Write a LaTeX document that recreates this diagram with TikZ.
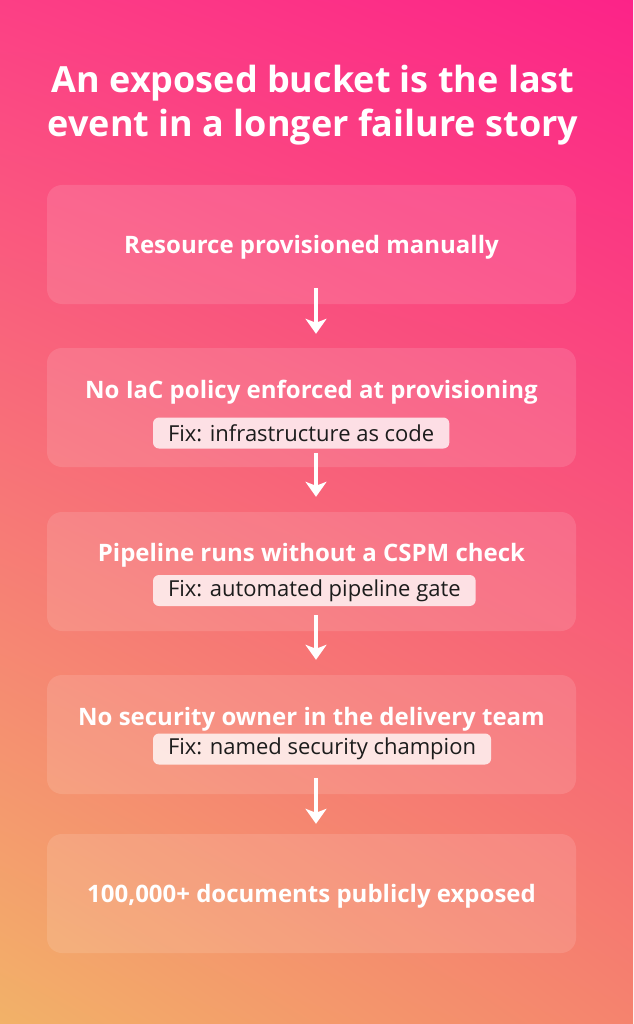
\documentclass[tikz,border=0pt]{standalone}
\usepackage{fontspec}
\setmainfont{Open Sans}
\usetikzlibrary{positioning,arrows.meta,shadings}
\definecolor{bgtl}{HTML}{FC3F85}
\definecolor{bgtr}{HTML}{FC2388}
\definecolor{bgbl}{HTML}{F2B268}
\definecolor{bgbr}{HTML}{F5836E}
\definecolor{fixink}{HTML}{1C1C1C}

\begin{document}
\begin{tikzpicture}[
  x=1pt,y=-1pt,
  title/.style={text=white,align=center,font=\fontsize{36}{44}\selectfont\bfseries},
  stage/.style={fill=white,fill opacity=0.12,rounded corners=15pt,
                minimum width=529pt,minimum height=119pt,inner sep=0pt},
  head/.style={text=white,inner sep=0pt,font=\fontsize{24}{28}\selectfont\bfseries},
  fix/.style={fill=white,fill opacity=0.78,text opacity=1,text=fixink,anchor=west,
              rounded corners=6pt,inner xsep=15pt,minimum height=31pt,
              font=\fontsize{22}{26}\selectfont},
  arr/.style={-{Stealth[length=15pt,width=21pt,inset=4pt]},white,line width=4pt}
]
\useasboundingbox (0,0) rectangle (633,1024);
\shade[upper left=bgtl,upper right=bgtr,lower left=bgbl,lower right=bgbr]
  (0,0) rectangle (633,1024);

% title
\node[title] (ttl) at (313,105) {An exposed bucket is the last\\event in a longer failure story};

% stages
\node[stage] (s1) at (311.5,244.5) {};
\node[head] (t1) at ([yshift=-2.5pt]s1.center) {Resource provisioned manually};

\node[stage] (s2) at (311.5,407.5) {};
\node[head] (t2) at ([yshift=15.5pt]s2.center) {No IaC policy enforced at provisioning};
\node[fix] (f2) at ([xshift=106pt,yshift=-25.5pt]s2.west) {Fix: infrastructure as code};

\node[stage] (s3) at (311.5,571.5) {};
\node[head] (t3) at ([yshift=16.5pt]s3.center) {Pipeline runs without a CSPM check};
\node[fix] (f3) at ([xshift=106pt,yshift=-19pt]s3.west) {Fix: automated pipeline gate};

\node[stage] (s4) at (311.5,734.5) {};
\node[head] (t4) at ([yshift=15.5pt]s4.center) {No security owner in the delivery team};
\node[fix] (f4) at ([xshift=106pt,yshift=-14.5pt]s4.west) {Fix: named security champion};

\node[stage] (s5) at (311.5,893.5) {};
\node[head] (t5) at ([yshift=-2.5pt]s5.center) {100,000+ documents publicly exposed};

% arrows
\draw[arr] ([xshift=4.5pt,yshift=16pt]s1.south) -- ([xshift=4.5pt,yshift=14pt]s2.north);
\draw[arr] ([xshift=4.5pt,yshift=14pt]s2.south) -- ([xshift=4.5pt,yshift=15pt]s3.north);
\draw[arr] ([xshift=4.5pt,yshift=16pt]s3.south) -- ([xshift=4.5pt,yshift=15pt]s4.north);
\draw[arr] ([xshift=4.5pt,yshift=16pt]s4.south) -- ([xshift=4.5pt,yshift=10pt]s5.north);
\end{tikzpicture}
\end{document}
